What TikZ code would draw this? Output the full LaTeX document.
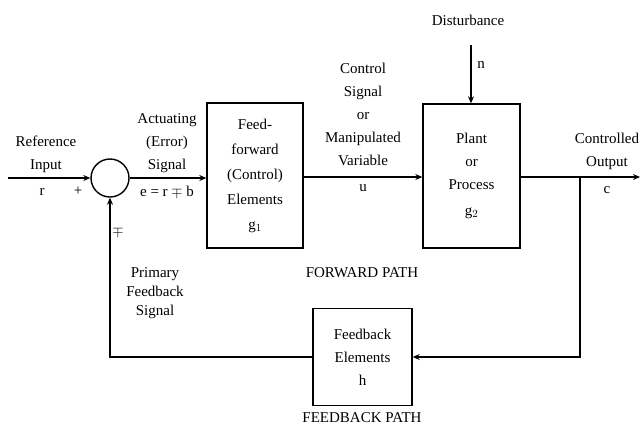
\documentclass[tikz,border=0pt]{standalone}
\usepackage{fontspec}
\setmainfont{Liberation Serif}
\usetikzlibrary{arrows.meta}
\begin{document}
\begin{tikzpicture}[x=1pt,y=-1pt,
        every node/.style={font=\fontsize{15}{23}\selectfont},
        blk/.style={draw,line width=1.4pt,align=center,inner sep=0pt},
        sumcirc/.style={draw,circle,line width=1.4pt,minimum size=38pt,inner sep=0pt},
        lbl/.style={align=center,inner sep=0pt},
        sig/.style={line width=1.4pt,-{Stealth[length=7pt,width=6pt]}}]
    \useasboundingbox (0,0) rectangle (644,426);

    \node[sumcirc] (sum) at (110,178) {};
    \node[blk,minimum width=96pt,minimum height=145pt] (ff) at (255,175.5)
        {Feed-\\[2pt]forward\\[2pt](Control)\\[2pt]Elements\\[2pt]g$_1$};
    \node[blk,minimum width=97pt,minimum height=144pt] (plant) at (471.5,176)
        {Plant\\or\\Process\\[3pt]g$_2$};
    \node[blk,minimum width=99pt,minimum height=97pt] (fb) at (362.5,357)
        {Feedback\\Elements\\h};

    \coordinate (in) at (8,178);
    \coordinate (out) at (640,177);
    \coordinate (br) at (580,177);
    \coordinate (brd) at (580,357);
    \coordinate (fbl) at (110,357);
    \coordinate (dist) at (471,45);

    \draw[sig] (in) -- (sum.west);
    \draw[sig] (sum.east) -- (sum.east -| ff.west);
    \draw[sig] (ff.east |- br) -- (plant.west |- br);
    \draw[sig] (plant.east |- br) -- (out);
    \draw[sig] (dist) -- (dist |- plant.north);
    \draw[sig] (br) -- (brd) -- (fb.east);
    \draw[sig] (fb.west) -- (fbl) -- (sum.south);

    \node[lbl] (refin) at (46,154) {Reference\\Input};
    \node (r) at (42,192) {r};
    \node (plus) at (78,191) {+};
    \node[lbl] (act) at (167,143) {Actuating\\(Error)\\Signal};
    \node (err) at (167,192) {e = r \(\mp\) b};
    \node (mp) at (118,232) {\(\mp\)};
    \node[lbl] (ctrl) at (363,114) {Control\\Signal\\or\\Manipulated\\Variable};
    \node (u) at (363,188) {u};
    \node (dlbl) at (468,20) {Disturbance};
    \node (n) at (481,65) {n};
    \node[lbl] (outlbl) at (607,151) {Controlled\\Output};
    \node (c) at (607,190) {c};
    \node[lbl,font=\fontsize{15}{19}\selectfont] (pfs) at (155,293) {Primary\\Feedback\\Signal};
    \node (fwd) at (362,273) {FORWARD PATH};
    \node (fbp) at (362,418) {FEEDBACK PATH};
\end{tikzpicture}
\end{document}
